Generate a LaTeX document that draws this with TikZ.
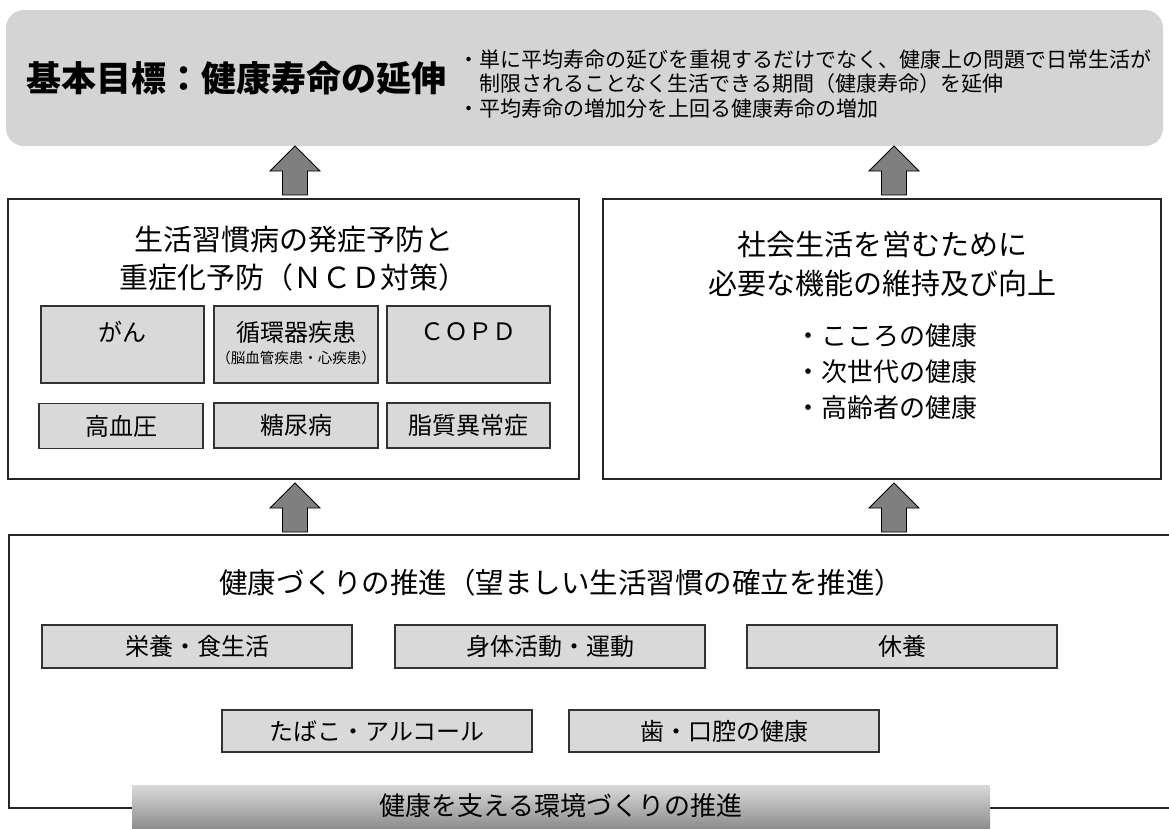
\documentclass[tikz,border=0pt]{standalone}
\usepackage{fontspec}
\setmainfont{Noto Sans CJK JP}
\definecolor{goalgray}{HTML}{D4D4D4}
\definecolor{itemgray}{HTML}{D9D9D9}
\definecolor{arrowgray}{HTML}{7F7F7F}
\definecolor{bannertop}{HTML}{DADADA}
\definecolor{bannerbot}{HTML}{8A8A8A}
\newcommand\fs[1]{\fontsize{#1}{#1}\selectfont}
\newcommand\bigarrowup[2]{%
  \path[arrowshape] (#1,#2) -- ++(25,25) -- ++(-12.5,0) -- ++(0,24) -- ++(-25,0) -- ++(0,-24) -- ++(-12.5,0) -- cycle;}
\begin{document}
\begin{tikzpicture}[x=1pt,y=-1pt,
  goalbox/.style={fill=goalgray, draw=none, rounded corners=18pt},
  framebox/.style={draw=black!85, line width=1.5pt, fill=white},
  itembox/.style={draw=black!80, line width=1.3pt, fill=itemgray, inner sep=0pt},
  arrowshape/.style={fill=arrowgray, draw=black, line width=0.8pt, line join=miter},
  txt/.style={inner sep=0pt, text=black, align=center},
]
\useasboundingbox (0,0) rectangle (1169,828);

% ---------- goal ----------
\path[goalbox] (6,10) rectangle (1163,146);
\node[txt, font=\fs{35}\bfseries] (goaltitle) at (236,78) {基本目標：健康寿命の延伸};
\node[txt, anchor=west, align=left, font=\fontsize{21}{24.5}\selectfont] (goaltext) at (458,84)
  {・単に平均寿命の延びを重視するだけでなく、健康上の問題で日常生活が\\
   \hphantom{・}制限されることなく生活できる期間（健康寿命）を延伸\\
   ・平均寿命の増加分を上回る健康寿命の増加};

% ---------- arrows (top) ----------
\bigarrowup{295}{146}
\bigarrowup{894}{146}

% ---------- NCD box ----------
\node[framebox, minimum width=571pt, minimum height=280pt, inner sep=0pt] (ncd) at (293.5,339) {};
\node[txt, font=\fontsize{29}{38}\selectfont] (ncdtitle) at (293.5,259)
  {生活習慣病の発症予防と\\重症化予防（ＮＣＤ対策）};

\node[itembox, minimum width=163pt, minimum height=77pt] (gan) at (122.5,344.5) {};
\node[itembox, minimum width=164pt, minimum height=77pt] (junkan) at (296,344.5) {};
\node[itembox, minimum width=163pt, minimum height=77pt] (copd) at (468.5,344.5) {};
\node[txt, font=\fs{24}] (gant) at (122.5,332) {がん};
\node[txt, font=\fs{24}] (junkant) at (296,332) {循環器疾患};
\node[txt, font=\fs{14.5}] (junkans) at (296,358) {（脳血管疾患・心疾患）};
\node[txt, font=\fs{24}] (copdt) at (468.5,332) {ＣＯＰＤ};

\node[itembox, minimum width=164pt, minimum height=45pt] (kouketsu) at (121,426) {};
\node[itembox, minimum width=164pt, minimum height=45pt] (tounyou) at (296,425.5) {};
\node[itembox, minimum width=163pt, minimum height=45pt] (shishitsu) at (468.5,425.5) {};
\node[txt, font=\fs{24}] at (kouketsu) {高血圧};
\node[txt, font=\fs{24}] at (tounyou) {糖尿病};
\node[txt, font=\fs{24}] at (shishitsu) {脂質異常症};

% ---------- social function box ----------
\node[framebox, minimum width=558pt, minimum height=280pt, inner sep=0pt] (social) at (882,339) {};
\node[txt, font=\fontsize{29}{39}\selectfont] (socialtitle) at (882,264)
  {社会生活を営むために\\必要な機能の維持及び向上};
\node[txt, anchor=west, align=left, font=\fontsize{26}{36}\selectfont] (sociallist) at (795,372)
  {・こころの健康\\・次世代の健康\\・高齢者の健康};

% ---------- arrows (middle) ----------
\bigarrowup{295}{483}
\bigarrowup{894}{483}

% ---------- health promotion frame ----------
\draw[draw=black!85, line width=1.5pt] (1180,535) -- (9,535) -- (9,808) -- (1180,808);
\node[txt, font=\fs{28.5}] (promtitle) at (561,583)
  {健康づくりの推進（望ましい生活習慣の確立を推進）};

\node[itembox, minimum width=310pt, minimum height=43pt] (eiyou) at (197,646.5) {};
\node[itembox, minimum width=310pt, minimum height=43pt] (shintai) at (550,646.5) {};
\node[itembox, minimum width=310pt, minimum height=43pt] (kyuyou) at (902,646.5) {};
\node[txt, font=\fs{24}] at (eiyou) {栄養・食生活};
\node[txt, font=\fs{24}] at (shintai) {身体活動・運動};
\node[txt, font=\fs{24}] at (kyuyou) {休養};

\node[itembox, minimum width=310pt, minimum height=42pt] (tabako) at (377,731) {};
\node[itembox, minimum width=310pt, minimum height=42pt] (shikou) at (724,731) {};
\node[txt, font=\fs{24}] at (tabako) {たばこ・アルコール};
\node[txt, font=\fs{24}] at (shikou) {歯・口腔の健康};

% ---------- environment banner ----------
\path[top color=bannertop, bottom color=bannerbot, draw=none] (132,785) rectangle (990,830);
\node[txt, font=\fs{26}] (banner) at (561,806) {健康を支える環境づくりの推進};
\end{tikzpicture}
\end{document}
